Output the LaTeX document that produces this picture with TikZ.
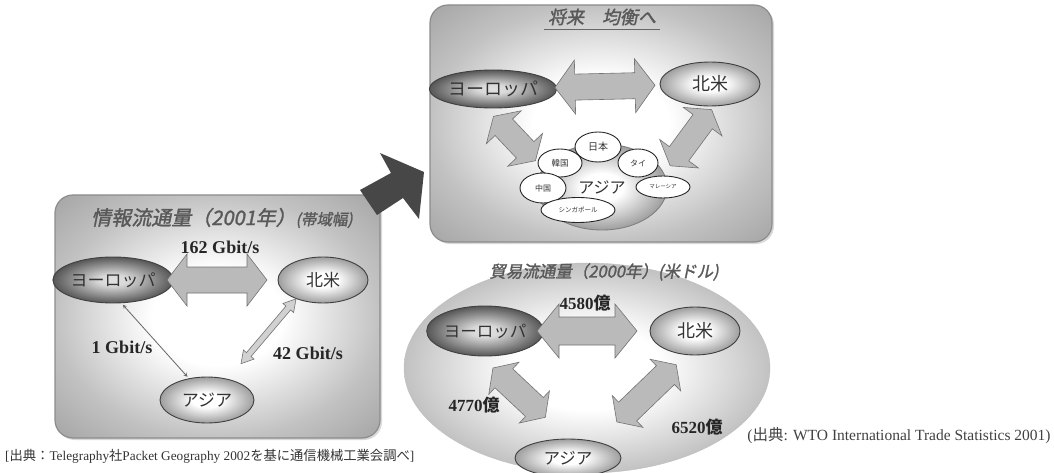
\documentclass[tikz,border=0pt]{standalone}
\usepackage{fontspec}
\setmainfont{Liberation Serif}
\newfontfamily\jp{Noto Sans CJK JP}
\newfontfamily\jpt[FakeSlant=0.2,FakeBold=1.5]{Noto Sans CJK JP}
\usetikzlibrary{shapes.geometric,calc,shadows}
\newcommand\fsz[1]{\fontsize{#1}{#1}\selectfont}
\pgfdeclareradialshading{panelsh}{\pgfpoint{0bp}{0bp}}{color(0bp)=(white); color(10bp)=(white); color(25bp)=(black!24); color(36bp)=(black!36); color(50bp)=(black!36)}
\pgfdeclareradialshading{regsh}{\pgfpoint{0bp}{0bp}}{color(0bp)=(white); color(8bp)=(white); color(25bp)=(black!38); color(50bp)=(black!38)}
\pgfdeclareradialshading{eush}{\pgfpoint{0bp}{0bp}}{color(0bp)=(black!12); color(6bp)=(black!15); color(25bp)=(black!66); color(50bp)=(black!66)}
% [opts]{from}{to}{shaft half}{head half}{head length}{shorten start}{shorten end}
\newcommand\fatarrow[8][]{%
  \path[fatarr,#1] let \p1=($(#2)!#7!(#3)$), \p2=($(#3)!#8!(#2)$),
    \n1={atan2(\y2-\y1,\x2-\x1)}, \n2={veclen(\x2-\x1,\y2-\y1)} in
    [shift={(\p1)},rotate=\n1]
    (0pt,0pt) -- (#6,#5) -- (#6,#4) -- (\n2-#6,#4) -- (\n2-#6,#5) -- (\n2,0pt)
    -- (\n2-#6,-#5) -- (\n2-#6,-#4) -- (#6,-#4) -- (#6,-#5) -- cycle;}
\begin{document}
\begin{tikzpicture}[x=1pt,y=-1pt,
  panel/.style={rounded corners=18pt, shading=panelsh, draw=black!45, line width=1.2pt, drop shadow={opacity=0.3,shadow xshift=2pt,shadow yshift=-2pt}},
  reg/.style={ellipse, draw=black!75, line width=0.9pt, shading=regsh, text=black!80, inner sep=0pt},
  eu/.style={reg, shading=eush},
  fatarr/.style={fill=black!27, draw=black!55, line width=0.6pt},
  num/.style={font=\bfseries\fsz{18}, text=black!85},
  ttl/.style={font=\jpt\fsz{19}, text=black!65},
  sm/.style={ellipse, draw=black!85, line width=0.9pt, fill=white, inner sep=0pt, text=black!80},
]
\useasboundingbox (0,0) rectangle (1054,473);
% ---------- left panel ----------
\path[panel] (55,195) rectangle (380,438);
\node[ttl, font=\jpt\fsz{20}] (t1) at (222,218) {情報流通量（2001年）{\fsz{15.5}(帯域幅)}};
\node[eu, minimum width=96pt, minimum height=46pt, font=\jp\fsz{17}] (eu1) at (113,280) {ヨーロッパ};
\node[reg, minimum width=90pt, minimum height=46pt, font=\jp\fsz{17}] (na1) at (323,280) {北米};
\node[reg, minimum width=94pt, minimum height=46pt, font=\jp\fsz{17}] (as1) at (207,400) {アジア};
\fatarrow{eu1}{na1}{13pt}{26pt}{20pt}{54pt}{56pt}
\node[num] (l162) at (220,247) {162 Gbit/s};
\draw[black!60, line width=0.8pt, <->, >=stealth, shorten <=2pt, shorten >=2pt] (eu1.-70) -- (as1.130);
\node[num] (l1) at (122,347) {1 Gbit/s};
\fatarrow[fill=black!18]{na1.-145}{as1.45}{3pt}{7pt}{12pt}{0pt}{20pt}
\node[num] (l42) at (308,353) {42 Gbit/s};
\node[font=\fsz{13.3}, text=black!80, anchor=west, inner sep=0pt] (c1) at (5,456) {[{\jp 出典：}Telegraphy{\jp 社}Packet Geography 2002{\jp を基に通信機械工業会調べ}]};
% ---------- big dark arrow ----------
\fill[black!72] (380,153) -- (424,172) -- (419,219) -- (403,198) -- (377,215) -- (360,190) -- (391,173) -- cycle;
% ---------- top right panel ----------
\path[panel] (430,5) rectangle (772,242);
\node[ttl, font=\jpt\fsz{18}] (t2) at (602,17) {将来　均衡へ};
\draw[black!60, line width=0.8pt] ([yshift=-1pt]t2.south west) -- ([yshift=-1pt]t2.south east);
\node[eu, minimum width=100pt, minimum height=38pt, font=\jp\fsz{18}] (eu2) at (493,89) {ヨーロッパ};
\node[reg, minimum width=100pt, minimum height=44pt, font=\jp\fsz{18}] (na2) at (710,84) {北米};
\fatarrow{eu2}{na2}{13pt}{27pt}{20pt}{62pt}{55pt}
\node[reg, draw=black!50, minimum width=130pt, minimum height=86pt, font=\jp\fsz{16}] (as2) at (602,187) {アジア};
\node[sm, minimum width=46pt, minimum height=30pt, font=\jp\fsz{10}] (jpn) at (598,147) {日本};
\node[sm, minimum width=44pt, minimum height=28pt, font=\jp\fsz{8.5}] (kr) at (560,163) {韓国};
\node[sm, minimum width=40pt, minimum height=28pt, font=\jp\fsz{8}] (th) at (638,163) {タイ};
\node[sm, minimum width=46pt, minimum height=30pt, font=\jp\fsz{8}] (cn) at (543,188) {中国};
\node[sm, minimum width=54pt, minimum height=22pt, font=\jp\fsz{5.5}] (my) at (663,187) {マレーシア};
\node[sm, minimum width=74pt, minimum height=25pt, font=\jp\fsz{6.5}] (sg) at (578,210) {シンガポール};
\fatarrow{eu2.-110}{kr.west}{12pt}{24pt}{15pt}{11pt}{3pt}
\fatarrow{na2.-80}{my.north}{12pt}{24pt}{15pt}{4pt}{12pt}
% ---------- bottom ellipse ----------
\path[shading=panelsh, draw=black!25] (587,368) ellipse [x radius=183, y radius=105];
\node[ttl, font=\jpt\fsz{16.5}] (t3) at (604,272) {貿易流通量（2000年）(米ドル)};
\node[eu, minimum width=84pt, minimum height=50pt, font=\jp\fsz{16.5}] (eu3) at (485,331) {ヨーロッパ};
\node[reg, minimum width=90pt, minimum height=48pt, font=\jp\fsz{18}] (na3) at (695,331) {北米};
\node[reg, minimum width=106pt, minimum height=38pt, font=\jp\fsz{16.5}] (as3) at (568,458) {アジア};
\fatarrow{eu3}{na3}{14pt}{27pt}{22pt}{52pt}{58pt}
\node[num, font=\bfseries\fsz{17}] (l4580) at (585,303) {4580{\jp 億}};
\fatarrow{eu3.-100}{as3.north}{13pt}{22pt}{15pt}{17pt}{31pt}
\node[num, font=\bfseries\fsz{17}] (l4770) at (474,405) {4770{\jp 億}};
\fatarrow{na3.-110}{as3.30}{13pt}{22pt}{15pt}{14pt}{28pt}
\node[num, font=\bfseries\fsz{17}] (l6520) at (697,427) {6520{\jp 億}};
\node[font=\fsz{15.5}, text=black!75] (c2) at (899,436) {({\jp 出典}: WTO International Trade Statistics 2001)};
\end{tikzpicture}
\end{document}
